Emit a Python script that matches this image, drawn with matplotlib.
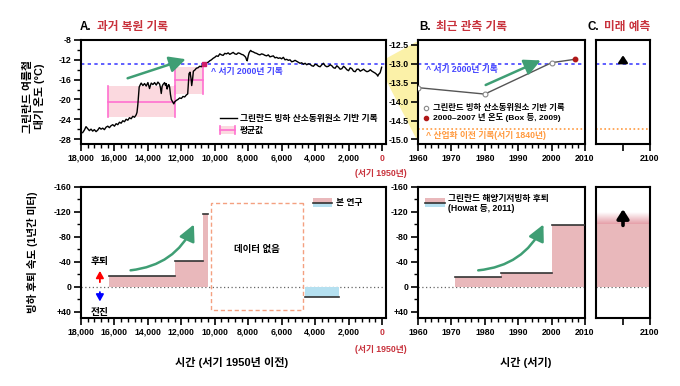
import matplotlib.pyplot as plt
import matplotlib.ticker as mticker
from matplotlib.patches import Rectangle, Polygon, FancyArrowPatch
import numpy as np

plt.rcParams['font.family'] = ['Liberation Sans', 'Noto Sans CJK KR']
plt.rcParams['font.weight'] = 'bold'
plt.rcParams['axes.unicode_minus'] = False
plt.rcParams['axes.linewidth'] = 1.5

# ---- data ----
# Greenland ice core temperature (years before 1950, deg C)
years = [17900, 17800, 17700, 17600, 17500, 17400, 17300, 17200, 17100, 17000,
         16900, 16800, 16700, 16600, 16500, 16400, 16300, 16200, 16100, 16000,
         15900, 15800, 15700, 15600, 15500, 15400, 15300, 15200, 15100, 15000,
         14900, 14800, 14700, 14650, 14600, 14560, 14520, 14450, 14400, 14300,
         14200, 14100, 14000, 13900, 13850, 13800, 13700, 13600, 13500, 13400,
         13300, 13250, 13200, 13150, 13100, 13000, 12950, 12900, 12850, 12800,
         12750, 12700, 12650, 12600, 12500, 12450, 12400, 12300, 12200, 12100,
         12000, 11900, 11800, 11700, 11620, 11580, 11540, 11480, 11420, 11380,
         11330, 11280, 11200, 11100, 11000, 10900, 10800, 10700, 10600, 10500,
         10400, 10300, 10200, 10100, 10000, 9900, 9800, 9700, 9600, 9500,
         9400, 9300, 9200, 9100, 9000, 8900, 8800, 8700, 8600, 8500,
         8400, 8300, 8200, 8150, 8100, 8060, 8000, 7950, 7900, 7850,
         7800, 7700, 7600, 7500, 7400, 7300, 7200, 7100, 7000, 6900,
         6800, 6700, 6600, 6500, 6400, 6300, 6200, 6100, 6000, 5900,
         5800, 5700, 5600, 5500, 5400, 5300, 5200, 5100, 5000, 4900,
         4800, 4700, 4600, 4500, 4400, 4300, 4200, 4100, 4000, 3900,
         3800, 3700, 3600, 3500, 3400, 3300, 3200, 3100, 3000, 2900,
         2800, 2700, 2600, 2500, 2400, 2300, 2200, 2100, 2000, 1900,
         1800, 1700, 1600, 1500, 1400, 1300, 1200, 1100, 1000, 900,
         800, 700, 600, 500, 400, 300, 250, 200, 150, 100, 50, 20]
temps = [-26.7, -26.2, -25.5, -25.9, -26.3, -26.0, -26.4, -26.1, -26.5, -26.2,
         -25.7, -26.0, -25.8, -26.1, -25.6, -25.4, -25.7, -25.3, -25.1, -25.4,
         -24.9, -25.1, -24.6, -24.8, -24.3, -24.5, -24.0, -24.2, -23.7, -23.9,
         -23.4, -23.6, -23.1, -22.6, -21.0, -19.2, -17.5, -17.0, -16.7, -17.2,
         -16.8, -17.3, -16.6, -17.8, -17.2, -16.7, -17.0, -16.6, -17.1, -16.5,
         -16.9, -17.6, -18.8, -17.4, -17.0, -16.6, -17.2, -16.8, -17.9, -17.3,
         -17.0, -17.5, -19.0, -20.0, -20.6, -20.9, -20.5, -20.2, -20.0, -19.7,
         -19.8, -19.4, -19.5, -19.1, -18.9, -17.0, -14.8, -14.5, -15.8, -17.2,
         -16.0, -14.3, -14.1, -13.7, -13.6, -13.3, -13.4, -12.9, -12.8, -12.6,
         -12.5, -12.2, -12.0, -11.7, -11.5, -11.2, -11.3, -10.8, -11.0, -11.1,
         -10.7, -10.8, -10.6, -10.9, -10.7, -10.5, -10.8, -10.9, -10.6, -10.7,
         -10.9, -11.0, -11.3, -11.5, -12.0, -12.2, -11.2, -10.6, -10.3, -10.1,
         -10.3, -10.4, -10.6, -10.7, -10.9, -11.0, -10.8, -10.9, -11.1, -11.2,
         -11.0, -11.4, -11.3, -11.2, -11.6, -11.5, -11.7, -11.6, -11.8, -11.5,
         -12.0, -11.9, -12.1, -12.0, -12.4, -12.3, -12.1, -12.3, -12.5, -12.7,
         -12.6, -12.9, -12.7, -13.0, -12.8, -12.9, -13.2, -13.3, -12.9, -13.0,
         -13.3, -13.4, -13.0, -12.7, -13.2, -13.4, -13.3, -13.0, -13.2, -13.6,
         -13.7, -13.2, -13.5, -13.9, -13.8, -13.3, -13.6, -14.0, -14.2, -13.6,
         -13.8, -14.3, -14.4, -13.9, -13.9, -14.3, -14.1, -13.9, -14.2, -14.4,
         -14.3, -14.0, -14.3, -14.5, -14.7, -15.0, -15.3, -14.9, -14.8, -14.5, -13.9, -13.5]

# mean boxes (start, end, mean, low, high)
box_start = [16400, 12350]
box_end = [12350, 10700]
box_mean = [-20.6, -16.1]
box_low = [-23.6, -18.9]
box_high = [-17.3, -13.4]

level_2000_a = -12.8
marker_2000_year = 10650

# recent observations
obs_years = [1960, 1980, 2000, 2007]
obs_temps = [-13.63, -13.80, -12.97, -12.88]
level_2000 = -13.0
level_1840 = -14.72

# retreat rates (m/yr, negative = retreat)
past_start = [16350, 12350, 10700]
past_end = [12350, 10700, 10400]
past_rate = [-17, -42, -116]
adv_start, adv_end, adv_rate = 4600, 2550, 17
nodata_x = (10250, 4730)
nodata_y = (-134, 37)

recent_start = [1971, 1985, 2000]
recent_end = [1985, 2000, 2010]
recent_rate = [-15, -22, -99]
future_rate = -100

# ---- style ----
RED = '#c8323c'
GREEN = '#3f9e74'
PINK = '#e9b8bb'
BLUE_FILL = '#b5e0f0'
DBLUE = '#4444ff'
ORANGE = '#ff9a40'

W, H = 680, 386
fig = plt.figure(figsize=(6.8, 3.86), dpi=100)


def box(l, t, r, b):
    return [l / W, 1 - b / H, (r - l) / W, (b - t) / H]


axA = fig.add_axes(box(81, 40, 386, 144))
axB = fig.add_axes(box(418, 40, 585, 144))
axC = fig.add_axes(box(596, 40, 650, 144))
axD = fig.add_axes(box(81, 187, 386, 318))
axE = fig.add_axes(box(418, 187, 585, 318))
axF = fig.add_axes(box(596, 187, 650, 318))

for ax in [axA, axB, axC, axD, axE, axF]:
    ax.tick_params(which='major', direction='out', length=5, width=1.2,
                   labelsize=6.3, pad=2)
    ax.tick_params(which='minor', direction='out', length=3, width=1.0)

# yellow zoom wedge
wedge = Polygon([(387 / W, 1 - 58 / H), (418 / W, 1 - 41 / H),
                 (418 / W, 1 - 142 / H), (387 / W, 1 - 82 / H)],
                closed=True, transform=fig.transFigure, facecolor='#fbf1a8',
                edgecolor='none', zorder=-1)
fig.patches.append(wedge)

# ---- A top ----
xfmt = mticker.FuncFormatter(lambda v, p: f"{int(v):,}")
axA.set_xlim(18000, -240)
axA.set_ylim(-29, -8)
for s, e, m, lo, hi in zip(box_start, box_end, box_mean, box_low, box_high):
    axA.add_patch(Rectangle((e, lo), s - e, hi - lo, facecolor='#fbd9df',
                            edgecolor='none', zorder=1))
    axA.plot([s, e], [m, m], color='#ff70d0', lw=1.2, zorder=2)
    axA.plot([s, s], [lo, hi], color='#ff70d0', lw=1.2, zorder=2)
    axA.plot([e, e], [lo, hi], color='#ff70d0', lw=1.2, zorder=2)
axA.axhline(level_2000_a, color=DBLUE, lw=1.2, ls=(0, (2, 2)), zorder=2)
axA.plot(years, temps, color='black', lw=1.0, zorder=3)
axA.plot([marker_2000_year], [level_2000_a], marker='s', ms=3.5,
         color='#d0206a', zorder=4)
axA.text(10250, -14.3, "^ 서기 2000년 기록", color=DBLUE, fontsize=6.3,
         va='center', ha='left')
axA.annotate('', xy=(11580, -11.7), xytext=(15370, -15.9),
             arrowprops=dict(arrowstyle='-|>,head_length=0.7,head_width=0.35',
                             color=GREEN, lw=1.8, mutation_scale=14))
axA.xaxis.set_major_locator(mticker.MultipleLocator(2000))
axA.xaxis.set_minor_locator(mticker.MultipleLocator(400))
axA.xaxis.set_major_formatter(xfmt)
axA.yaxis.set_minor_locator(mticker.MultipleLocator(2))
axA.set_yticks([-8, -12, -16, -20, -24, -28])
# legend
axA.plot([0.456, 0.51], [0.25, 0.25], transform=axA.transAxes, color='black', lw=1)
axA.text(0.52, 0.25, "그린란드 빙하 산소동위원소 기반 기록", transform=axA.transAxes,
         fontsize=6.3, va='center')
axA.add_patch(Rectangle((0.456, 0.10), 0.05, 0.07, transform=axA.transAxes,
                        facecolor='#fbd9df', edgecolor='none'))
axA.plot([0.456, 0.506], [0.135, 0.135], transform=axA.transAxes, color='#ff70d0', lw=1.2)
axA.plot([0.456, 0.456], [0.10, 0.17], transform=axA.transAxes, color='#ff70d0', lw=1.2)
axA.plot([0.506, 0.506], [0.10, 0.17], transform=axA.transAxes, color='#ff70d0', lw=1.2)
axA.text(0.52, 0.135, "평균값", transform=axA.transAxes, fontsize=6.3, va='center')

# ---- B top ----
axB.set_xlim(1960, 2010)
axB.set_ylim(-15.12, -12.37)
axB.axhline(level_2000, color=DBLUE, lw=1.2, ls=(0, (2, 2)))
axB.axhline(level_1840, color=ORANGE, lw=1.2, ls=(0, (1, 1.5)))
axB.plot(obs_years, obs_temps, color='#555555', lw=1.0, zorder=3)
axB.plot(obs_years[:3], obs_temps[:3], 'o', ms=3.5, mfc='white', mec='#888888',
         mew=0.8, zorder=4)
axB.plot(obs_years[3:], obs_temps[3:], 'o', ms=3.2, color='#b01818', zorder=4)
axB.annotate('', xy=(1997.5, -12.88), xytext=(1979.5, -13.59),
             arrowprops=dict(arrowstyle='-|>,head_length=0.7,head_width=0.35',
                             color=GREEN, lw=1.8, mutation_scale=14))
axB.text(0.05, 0.72, "^ 서기 2000년 기록", transform=axB.transAxes, color=DBLUE,
         fontsize=6.3, va='center')
axB.plot([0.045], [0.35], 'o', transform=axB.transAxes, ms=3.2, mfc='white',
         mec='#888888', mew=0.8)
axB.text(0.09, 0.35, "그린란드 빙하 산소동위원소 기반 기록", transform=axB.transAxes,
         fontsize=6.0, va='center')
axB.plot([0.045], [0.25], 'o', transform=axB.transAxes, ms=3.0, color='#b01818')
axB.text(0.09, 0.25, "2000–2007 년 온도 (Box 등, 2009)", transform=axB.transAxes,
         fontsize=6.0, va='center')
axB.text(0.05, 0.08, "^ 산업화 이전 기록(서기 1840년)", transform=axB.transAxes,
         color=ORANGE, fontsize=6.3, va='center')
axB.xaxis.set_major_locator(mticker.MultipleLocator(10))
axB.xaxis.set_minor_locator(mticker.MultipleLocator(2))
axB.set_yticks([-12.5, -13.0, -13.5, -14.0, -14.5, -15.0])
axB.yaxis.set_major_formatter(mticker.FormatStrFormatter('%.1f'))

# ---- C top ----
axC.set_xlim(2010, 2100)
axC.set_ylim(-15.12, -12.37)
axC.axhline(level_2000, color=DBLUE, lw=1.2, ls=(0, (2, 2)))
axC.axhline(level_1840, color=ORANGE, lw=1.2, ls=(0, (1, 1.5)))
axC.annotate('', xy=(2055, -12.7), xytext=(2055, -13.0),
             arrowprops=dict(arrowstyle='-|>,head_length=0.45,head_width=0.3',
                             color='black', lw=1.8, mutation_scale=9))
axC.set_yticks([])
axC.set_xticks([2055, 2100], ['', '2100'])

# ---- bottom panels ----
yt = [-160, -120, -80, -40, 0, 40]
ytl = ['-160', '-120', '-80', '-40', '0', '+40']
for ax in [axD, axE, axF]:
    ax.set_ylim(50, -160)
    ax.axhline(0, color='#666666', lw=0.9, ls=(0, (1, 2)), zorder=1)
axD.set_yticks(yt, ytl)
axE.set_yticks(yt, ytl)
axD.yaxis.set_minor_locator(mticker.MultipleLocator(20))
axE.yaxis.set_minor_locator(mticker.MultipleLocator(20))
axF.set_yticks([])

# D: past retreat
axD.set_xlim(18000, -240)
for s, e, r in zip(past_start, past_end, past_rate):
    axD.fill_between([s, e], [r, r], 0, color=PINK, lw=0, zorder=2)
    axD.plot([s, e], [r, r], color='#333333', lw=1.2, zorder=3)
axD.fill_between([adv_start, adv_end], [adv_rate, adv_rate], 0, color=BLUE_FILL,
                 lw=0, zorder=2)
axD.plot([adv_start, adv_end], [adv_rate, adv_rate], color='#333333', lw=1.2, zorder=3)
axD.add_patch(Rectangle((nodata_x[1], nodata_y[0]), nodata_x[0] - nodata_x[1],
                        nodata_y[1] - nodata_y[0], fill=False, edgecolor='#f4a080',
                        lw=1.0, ls=(0, (3, 2)), zorder=2))
axD.text(7500, -60, "데이터 없음", fontsize=6.8, ha='center', va='center')
axD.add_patch(FancyArrowPatch((15200, -26), (11180, -104),
                              connectionstyle='arc3,rad=0.3',
                              arrowstyle='-|>,head_length=0.7,head_width=0.35',
                              color=GREEN, lw=1.8, mutation_scale=14, zorder=4))
axD.text(16870, -42, "후퇴", fontsize=7, ha='center', va='center')
axD.annotate('', xy=(16870, -30), xytext=(16870, -3),
             arrowprops=dict(arrowstyle='-|>,head_length=0.45,head_width=0.25',
                             color='red', lw=1.3, mutation_scale=9))
axD.text(16870, 40, "전진", fontsize=7, ha='center', va='center')
axD.annotate('', xy=(16870, 28), xytext=(16870, 4),
             arrowprops=dict(arrowstyle='-|>,head_length=0.45,head_width=0.25',
                             color='blue', lw=1.3, mutation_scale=9))
axD.xaxis.set_major_locator(mticker.MultipleLocator(2000))
axD.xaxis.set_minor_locator(mticker.MultipleLocator(400))
axD.xaxis.set_major_formatter(xfmt)
# legend D
axD.add_patch(Rectangle((0.761, 0.878), 0.062, 0.035, transform=axD.transAxes,
                        facecolor=PINK, edgecolor='none'))
axD.add_patch(Rectangle((0.761, 0.848), 0.062, 0.03, transform=axD.transAxes,
                        facecolor=BLUE_FILL, edgecolor='none'))
axD.plot([0.761, 0.823], [0.878, 0.878], transform=axD.transAxes, color='#333333', lw=1.2)
axD.text(0.835, 0.878, "본 연구", transform=axD.transAxes, fontsize=6.3, va='center')

# E: recent retreat
axE.set_xlim(1960, 2010)
for s, e, r in zip(recent_start, recent_end, recent_rate):
    axE.fill_between([s, e], [r, r], 0, color=PINK, lw=0, zorder=2)
    axE.plot([s, e], [r, r], color='#333333', lw=1.2, zorder=3)
axE.add_patch(FancyArrowPatch((1977.2, -26), (1997.9, -104),
                              connectionstyle='arc3,rad=0.3',
                              arrowstyle='-|>,head_length=0.7,head_width=0.35',
                              color=GREEN, lw=1.8, mutation_scale=14, zorder=4))
axE.xaxis.set_major_locator(mticker.MultipleLocator(10))
axE.xaxis.set_minor_locator(mticker.MultipleLocator(2))
axE.add_patch(Rectangle((0.042, 0.878), 0.12, 0.035, transform=axE.transAxes,
                        facecolor=PINK, edgecolor='none'))
axE.add_patch(Rectangle((0.042, 0.848), 0.12, 0.03, transform=axE.transAxes,
                        facecolor=BLUE_FILL, edgecolor='none'))
axE.plot([0.042, 0.162], [0.878, 0.878], transform=axE.transAxes, color='#333333', lw=1.2)
axE.text(0.18, 0.95, "그린란드 해양기저빙하 후퇴\n(Howat 등, 2011)", transform=axE.transAxes,
         fontsize=6.3, va='top', linespacing=1.25)

# F: future
axF.set_xlim(2010, 2100)
axF.fill_between([2010, 2100], [future_rate, future_rate], 0, color=PINK, lw=0, zorder=2)
grad = np.zeros((50, 1, 4))
grad[:, 0, :3] = [0.90, 0.62, 0.66]
grad[:, 0, 3] = np.linspace(1, 0, 50)
axF.imshow(grad, extent=[2010, 2100, future_rate, future_rate - 18], aspect='auto',
           origin='lower', zorder=2)
axF.set_xlim(2010, 2100)
axF.set_ylim(50, -160)
axF.annotate('', xy=(2055, -129), xytext=(2055, -94),
             arrowprops=dict(arrowstyle='-|>,head_length=0.55,head_width=0.35',
                             color='black', lw=2.6, mutation_scale=10), zorder=5)
axF.set_xticks([2055, 2100], ['', '2100'])

# red "0" labels
for ax in [axA, axD]:
    ax.set_xticks([18000, 16000, 14000, 12000, 10000, 8000, 6000, 4000, 2000, 0])
    ax.get_xticklabels()[-1].set_color(RED)
fig.text(381 / W, 1 - 173 / H, "(서기 1950년)", color=RED, fontsize=6.3,
         ha='center', va='center')
fig.text(381 / W, 1 - 349 / H, "(서기 1950년)", color=RED, fontsize=6.3,
         ha='center', va='center')

# titles
ty = 1 - 26.7 / H
for x0, x1, letter, txt in [(80, 97, "A.", "과거 복원 기록"),
                            (419, 436, "B.", "최근 관측 기록"),
                            (588, 604, "C.", "미래 예측")]:
    fig.text(x0 / W, ty, letter, fontsize=8.4, va='center')
    fig.text(x1 / W, ty, txt, fontsize=8.4, va='center', color=RED)

# axis labels
fig.text(34 / W, 1 - 96.5 / H, "그린란드 여름철\n대기 온도 (°C)", rotation=90,
         ha='center', va='center', fontsize=7.8, linespacing=1.05)
fig.text(33 / W, 1 - 252 / H, "빙하 후퇴 속도 (1년간 미터)", rotation=90,
         ha='center', va='center', fontsize=7.6)
fig.text(232 / W, 1 - 362 / H, "시간 (서기 1950년 이전)", ha='center', va='center',
         fontsize=8)
fig.text(526 / W, 1 - 362 / H, "시간 (서기)", ha='center', va='center', fontsize=8)

fig.savefig('out.png', dpi=100)
